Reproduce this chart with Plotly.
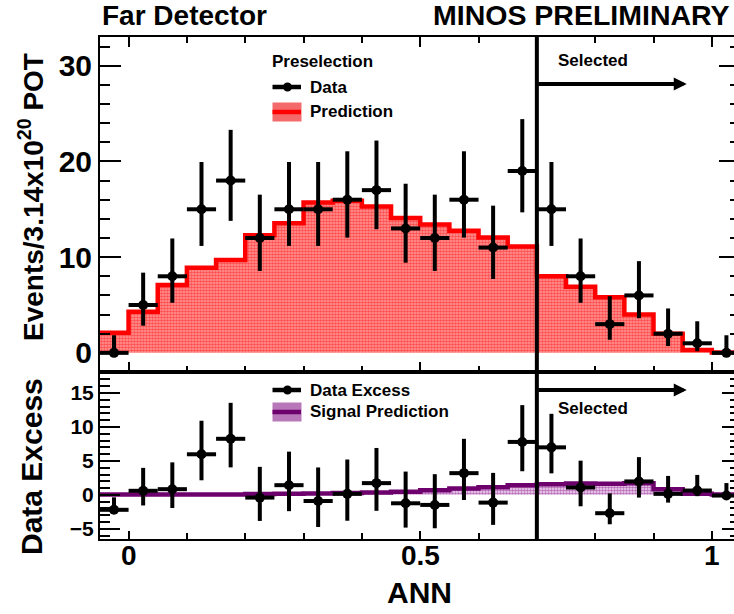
import plotly.graph_objects as go

# ---- binning (ANN output, 0.05 wide bins) ----
BIN_EDGES = [-0.05, 0.0, 0.05, 0.1, 0.15, 0.2, 0.25, 0.3, 0.35, 0.4, 0.45, 0.5,
             0.55, 0.6, 0.65, 0.7, 0.75, 0.8, 0.85, 0.9, 0.95, 1.0, 1.05]
CUT = 0.7  # selection cut on ANN

# ---- top panel: preselected events ----
DATA = [0, 5, 8, 15, 18, 12, 15, 15, 16, 17, 13, 12, 16, 11, 19, 15, 8, 3, 6, 2, 1, 0]
DATA_ERR_UP = [1.84, 3.38, 3.95, 4.94, 5.30, 4.53, 4.94, 4.94, 5.06, 5.18, 4.67,
               4.53, 5.06, 4.38, 5.42, 4.94, 3.95, 2.92, 3.58, 2.64, 2.30, 1.84]
DATA_ERR_DN = [0.0, 2.16, 2.77, 3.83, 4.21, 3.44, 3.83, 3.83, 3.96, 4.08, 3.58,
               3.44, 3.96, 3.28, 4.32, 3.83, 2.77, 1.63, 2.38, 1.29, 0.83, 0.0]
PREDICTION = [2.1, 4.3, 7.1, 8.9, 9.7, 12.3, 13.55, 15.7, 15.9, 15.3, 14.1,
              13.4, 12.75, 12.05, 11.1, 8.0, 6.9, 5.8, 4.0, 2.0, 0.3, 0.05]

# ---- bottom panel: data minus prediction, and expected signal ----
EXCESS = [-2.2, 0.6, 0.84, 5.98, 8.26, -0.4, 1.43, -0.9, 0.15, 1.73, -1.24,
          -1.48, 3.2, -1.14, 7.8, 7.0, 1.09, -2.7, 1.98, 0.15, 0.64, -0.1]
SIGNAL = [0.05, 0.05, 0.05, 0.05, 0.05, 0.12, 0.15, 0.2, 0.27, 0.35, 0.45,
          0.69, 0.94, 1.13, 1.43, 1.58, 1.68, 1.65, 1.7, 0.84, 0.15, 0.05]

Y_TICKS_TOP = [0, 10, 20, 30]
Y_TICKS_BOT = [-5, 0, 5, 10, 15]
X_TICKS = [0, 0.5, 1]
X_TICK_TEXT = ["0", "0.5", "1"]

centers = [(a + b) / 2 for a, b in zip(BIN_EDGES[:-1], BIN_EDGES[1:])]
half_w = [(b - a) / 2 for a, b in zip(BIN_EDGES[:-1], BIN_EDGES[1:])]

FONT = "Liberation Sans"
W, H = 734, 614
ML, MR, MT, MB = 100, 0, 37, 75
PLOT_H = H - MT - MB
SPLIT = (539 - 372) / PLOT_H


def px_x(px):
    return (px - ML) / (W - ML - MR)


def px_y(py):
    return (H - MB - py) / PLOT_H


RED = "#ff0000"
PURPLE = "#6e006e"

fig = go.Figure()

# prediction histogram (stepped outline + dotted fill)
fig.add_trace(go.Scatter(
    x=BIN_EDGES, y=PREDICTION + [PREDICTION[-1]], mode="lines",
    line=dict(color=RED, width=4.5, shape="hv"),
    fill="tozeroy", fillcolor="rgba(245,110,110,1)",
    fillpattern=dict(shape=".", fgcolor="#ff0000", bgcolor="#ff9c9c",
                     size=3, solidity=0.6),
    xaxis="x", yaxis="y", hoverinfo="skip", showlegend=False))

# data points
fig.add_trace(go.Scatter(
    x=centers, y=DATA, mode="markers",
    marker=dict(color="black", size=10, symbol="circle"),
    error_x=dict(type="data", array=half_w, symmetric=True,
                 color="black", thickness=4, width=0),
    error_y=dict(type="data", array=DATA_ERR_UP, arrayminus=DATA_ERR_DN,
                 symmetric=False, color="black", thickness=4, width=0),
    xaxis="x", yaxis="y", showlegend=False))

# signal prediction (bottom panel)
fig.add_trace(go.Scatter(
    x=BIN_EDGES, y=SIGNAL + [SIGNAL[-1]], mode="lines",
    line=dict(color=PURPLE, width=4.5, shape="hv"),
    fill="tozeroy", fillcolor="rgba(200,140,200,1)",
    fillpattern=dict(shape=".", fgcolor="#800080", bgcolor="#f2dcf2",
                     size=3, solidity=0.55),
    xaxis="x2", yaxis="y2", hoverinfo="skip", showlegend=False))

# data excess points
fig.add_trace(go.Scatter(
    x=centers, y=EXCESS, mode="markers",
    marker=dict(color="black", size=10, symbol="circle"),
    error_x=dict(type="data", array=half_w, symmetric=True,
                 color="black", thickness=4, width=0),
    error_y=dict(type="data", array=DATA_ERR_UP, arrayminus=DATA_ERR_DN,
                 symmetric=False, color="black", thickness=4, width=0),
    xaxis="x2", yaxis="y2", showlegend=False))

# invisible traces carrying the right-hand tick axes
fig.add_trace(go.Scatter(x=[None], y=[None], xaxis="x", yaxis="y3",
                         showlegend=False, hoverinfo="skip"))
fig.add_trace(go.Scatter(x=[None], y=[None], xaxis="x2", yaxis="y4",
                         showlegend=False, hoverinfo="skip"))

X_RANGE = [-0.049, 1.038]
tick_font_big = dict(family=FONT, size=30, color="black", weight="bold")
tick_font_small = dict(family=FONT, size=21, color="black", weight="bold")

common_x = dict(range=X_RANGE, showgrid=False, zeroline=False,
                showline=True, linecolor="black", linewidth=2,
                ticks="inside", tickcolor="black", tickwidth=2,
                tickvals=X_TICKS, showticklabels=False,
                minor=dict(dtick=0.1, tick0=0, ticks="inside", ticklen=6,
                           tickwidth=1.5, tickcolor="black"))

fig.update_layout(
    width=W, height=H,
    margin=dict(l=ML, r=MR, t=MT, b=MB, pad=0),
    paper_bgcolor="white", plot_bgcolor="white",
    xaxis=dict(common_x, domain=[0, 1], anchor="y", mirror="ticks",
               ticklen=10),
    yaxis=dict(domain=[SPLIT, 1], anchor="x", range=[-2, 33],
               showgrid=False, zeroline=False, showline=True,
               linecolor="black", linewidth=2, ticks="inside",
               tickcolor="black", tickwidth=2, ticklen=21,
               tickvals=Y_TICKS_TOP, tickfont=tick_font_big,
               minor=dict(dtick=2, tick0=0, ticks="inside", ticklen=10,
                          tickwidth=1.5, tickcolor="black")),
    yaxis3=dict(overlaying="y", side="right", anchor="x", range=[-2, 33],
                showgrid=False, zeroline=False, showline=False,
                ticks="inside", tickcolor="black", tickwidth=2, ticklen=15,
                tickvals=Y_TICKS_TOP, showticklabels=False,
                minor=dict(dtick=2, tick0=0, ticks="inside", ticklen=4,
                           tickwidth=1.5, tickcolor="black")),
    xaxis2=dict(common_x, domain=[0, 1], anchor="y2", mirror=True,
                ticklen=8),
    yaxis2=dict(domain=[0, SPLIT], anchor="x2", range=[-6.5, 18.1],
                showgrid=False, zeroline=False, showline=True,
                linecolor="black", linewidth=2, ticks="inside",
                tickcolor="black", tickwidth=2, ticklen=20,
                tickvals=Y_TICKS_BOT, tickfont=tick_font_small,
                minor=dict(dtick=1, tick0=0, ticks="inside", ticklen=10,
                           tickwidth=1.5, tickcolor="black")),
    yaxis4=dict(overlaying="y2", side="right", anchor="x2",
                range=[-6.5, 18.1], showgrid=False, zeroline=False,
                showline=False, ticks="inside", tickcolor="black",
                tickwidth=2, ticklen=12, tickvals=Y_TICKS_BOT,
                showticklabels=False,
                minor=dict(dtick=1, tick0=0, ticks="inside", ticklen=4,
                           tickwidth=1.5, tickcolor="black")),
    showlegend=False,
)

shapes = []
# selection cut line through both panels
shapes.append(dict(type="line", xref="x", yref="paper", x0=CUT, x1=CUT,
                   y0=0, y1=1, line=dict(color="black", width=4),
                   layer="above"))

# legend symbols
def leg_line(y, color):
    return dict(type="line", xref="paper", yref="paper",
                x0=px_x(272.5), x1=px_x(301), y0=px_y(y), y1=px_y(y),
                line=dict(color=color, width=4.5))


def leg_dot(y):
    return dict(type="circle", xref="paper", yref="paper",
                x0=px_x(283), x1=px_x(292), y0=px_y(y + 4.5), y1=px_y(y - 4.5),
                fillcolor="black", line=dict(width=0))


def leg_box(y, color):
    return dict(type="rect", xref="paper", yref="paper",
                x0=px_x(272.5), x1=px_x(301.5), y0=px_y(y + 9.5), y1=px_y(y - 9.5),
                fillcolor=color, line=dict(width=0))


shapes += [leg_line(87, "black"), leg_dot(87),
           leg_box(112, "#f46a6a"), leg_line(112, RED),
           leg_line(390, "black"), leg_dot(390),
           leg_box(412, "#b877b8"), leg_line(412, PURPLE)]
fig.update_layout(shapes=shapes)

ann = []


def text(s, x, y, size, xanchor="left", angle=0):
    ann.append(dict(text="<b>" + s + "</b>", xref="paper", yref="paper",
                    x=px_x(x), y=px_y(y), xanchor=xanchor, yanchor="middle",
                    showarrow=False, textangle=angle,
                    font=dict(family=FONT, size=size, color="black")))


text("Far Detector", 100, 15, 28)
text("MINOS PRELIMINARY", 732, 15, 28.5, xanchor="right")
text("Events/3.14x10<sup>20</sup> POT", 31, 197, 28, xanchor="center", angle=-90)
text("Data Excess", 31, 467, 30, xanchor="center", angle=-90)
text("ANN", 419, 592, 30, xanchor="center")
text("Preselection", 270, 62, 17)
text("Data", 308, 87, 17)
text("Prediction", 308, 112, 17)
text("Data Excess", 308, 390, 17)
text("Signal Prediction", 308, 411, 17)
text("Selected", 556, 61, 17)
text("Selected", 556, 408, 17)

# x tick labels of the lower panel
for xv, lab in zip(X_TICKS, X_TICK_TEXT):
    ann.append(dict(text="<b>" + lab + "</b>", xref="x2", yref="paper",
                    x=xv, y=px_y(555), xanchor="center", yanchor="middle",
                    showarrow=False,
                    font=dict(family=FONT, size=28, color="black")))

# "Selected" arrows starting at the cut
ARROW_END = 0.957
for yref, yv in (("y", 28.1), ("y2", 15.45)):
    ann.append(dict(x=ARROW_END, y=yv, xref="x", yref=yref,
                    ax=CUT, ay=yv, axref="x", ayref=yref,
                    showarrow=True, arrowhead=2, arrowsize=0.65,
                    arrowwidth=4, arrowcolor="black", text="",
                    standoff=0, startstandoff=0))

fig.update_layout(annotations=ann)

fig.write_html("out.html")
